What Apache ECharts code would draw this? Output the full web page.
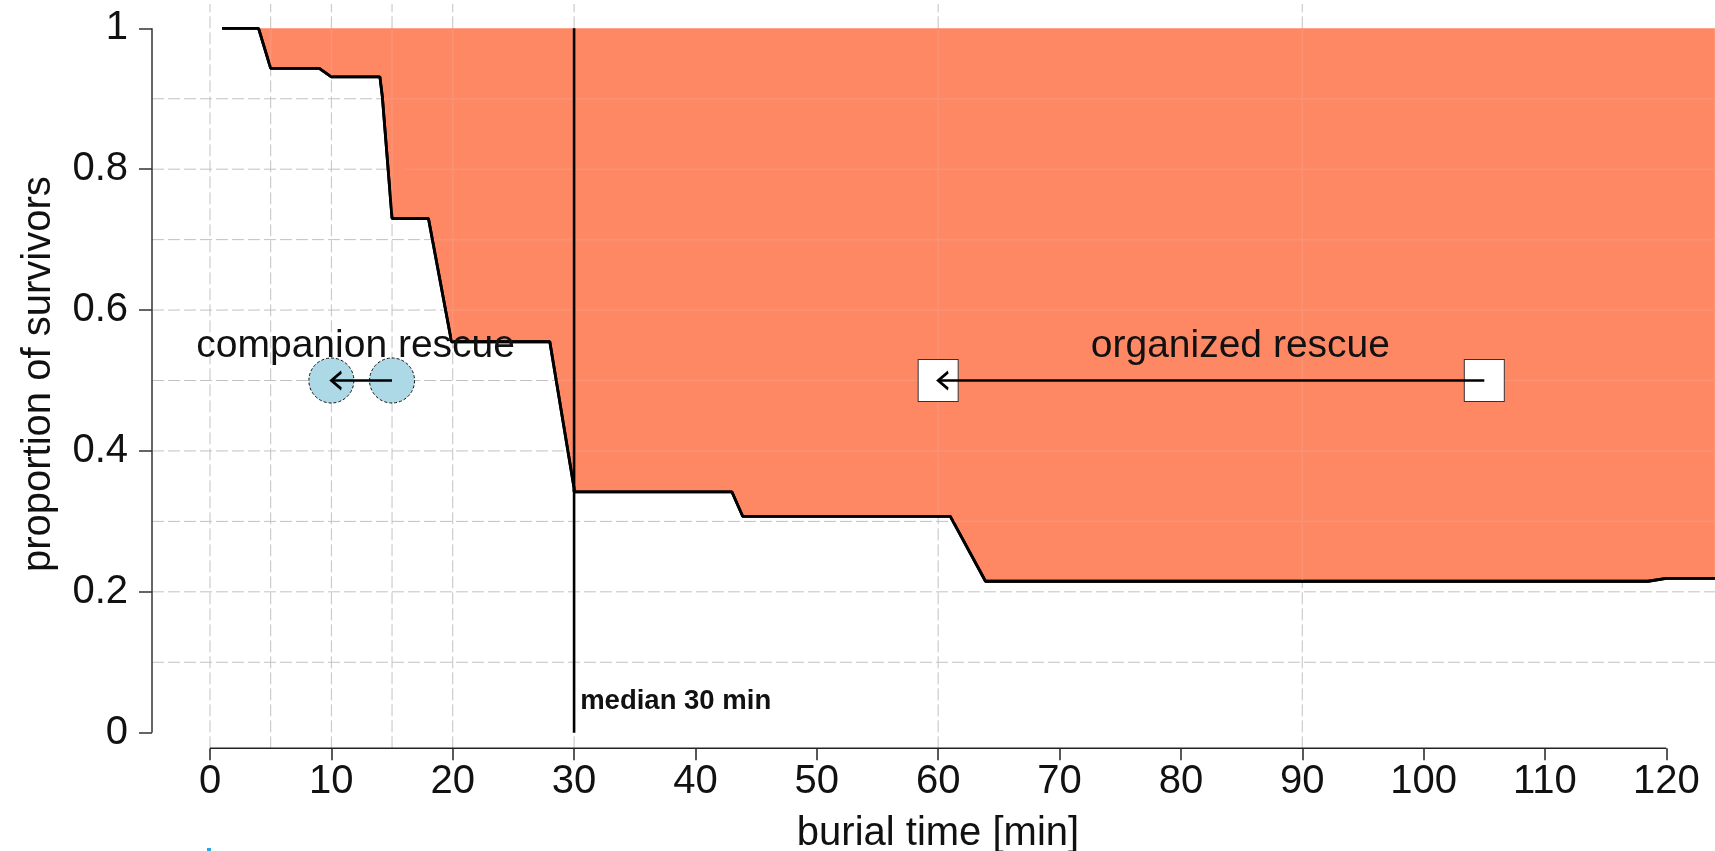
<!DOCTYPE html>
<html><head><meta charset="utf-8">
<style>html,body{margin:0;padding:0;background:#fff}#c{width:1715px;height:851px}</style>
<script src="https://cdn.jsdelivr.net/npm/echarts@6/dist/echarts.min.js"></script>
</head><body><div id="c"></div>
<script>
const survivalCurve = [[1,1],[4,1],[5,0.943],[9,0.943],[10,0.931],[14,0.931],[14.2,0.903],[15,0.73],[18,0.73],[19.9,0.555],[28,0.555],[30,0.347],[30,0.342],[43,0.342],[43.9,0.307],[61,0.307],[63.9,0.215],[118.5,0.215],[120,0.219],[124,0.219]];
const medianLine = [[30,0],[30,1]];
const gridVerticalX = [0,5,10,15,20,30,60,90];
const gridHorizontalY = [0.1,0.2,0.3,0.4,0.5,0.6,0.7,0.8,0.9];
const fillGridHorizontalStart = [[0.9,14.25],[0.8,16],[0.7,18.4],[0.6,19.4],[0.5,28.5],[0.4,29.5],[0.3,61.3]];
const fillGridVerticalStart = [[5,0.943],[10,0.931],[15,0.73],[20,0.555],[60,0.307],[90,0.215]];
const companionPoints = [[10,0.5],[15,0.5]];
const organizedPoints = [[60,0.5],[105,0.5]];
const companionArrow = [[15,0.5],[10,0.5]];
const organizedArrow = [[105,0.5],[60,0.5]];
const arrowTips = [[10,0.5],[60,0.5]];
const rescueLabels = [{name:'companion rescue',value:[12,0.548]},{name:'organized rescue',value:[84.9,0.548]}];
const medianLabel = [{name:'median 30 min',value:[30.5,0.044]}];
const xTicks = [0,10,20,30,40,50,60,70,80,90,100,110,120];
const yTicks = [0,0.2,0.4,0.6,0.8,1];
const xMin = -4.779, xMax = 124.01, yMin = -0.02215, yMax = 1.0402, gridTop = 1.0345;
const xAxisSpan = [[0,yMin],[120,yMin]];
const yAxisSpan = [[xMin,0],[xMin,1]];

const font = '"Liberation Sans", Arial, sans-serif';
const ink = '#111';
function withBreaks(segs){const o=[];segs.forEach(s=>{o.push(s[0],s[1],[null,null]);});return o;}
const dashSegs = withBreaks(gridVerticalX.map(x=>[[x,yMin],[x,gridTop]]).concat(gridHorizontalY.map(y=>[[xMin,y],[xMax,y]])));
const fillSegs = withBreaks(fillGridHorizontalStart.map(p=>[[p[1],p[0]],[xMax,p[0]]]).concat(fillGridVerticalStart.map(p=>[[p[0],p[1]],[p[0],1]])));
const plain = {silent:true,animation:false,clip:false,symbol:'none'};

const chart = echarts.init(document.getElementById('c'),null,{renderer:'canvas'});
chart.setOption({
  backgroundColor:'#fff',animation:false,
  grid:{left:152,right:0,top:0,bottom:102.7,outerBoundsMode:'none'},
  xAxis:{type:'value',min:xMin,max:xMax,
    name:'burial time [min]',nameLocation:'middle',nameGap:66,nameMoveOverlap:false,
    nameTextStyle:{fontFamily:font,fontSize:40,color:ink,padding:[0,0,0,9]},
    axisLine:{show:false,onZero:false},
    axisTick:{show:true,length:12,customValues:xTicks,lineStyle:{color:'#222',width:1.5}},
    axisLabel:{show:true,margin:14,customValues:xTicks,fontFamily:font,fontSize:40,color:ink,hideOverlap:false},
    splitLine:{show:false}},
  yAxis:{type:'value',min:yMin,max:yMax,
    name:'proportion of survivors',nameLocation:'middle',nameGap:93,nameRotate:90,nameMoveOverlap:false,
    nameTextStyle:{fontFamily:font,fontSize:40,color:ink},
    axisLine:{show:false,onZero:false},
    axisTick:{show:true,length:13,customValues:yTicks,lineStyle:{color:'#333',width:1.5}},
    axisLabel:{show:true,margin:24,customValues:yTicks,fontFamily:font,fontSize:40,color:ink,hideOverlap:false,
      formatter:v=>String(+v.toFixed(1))},
    splitLine:{show:false}},
  graphic:[{type:'rect',shape:{x:207,y:848,width:4,height:3},style:{fill:'#29a9e0'},silent:true}],
  series:[
    Object.assign({type:'line',z:1,data:dashSegs,connectNulls:false,lineStyle:{color:'#c2c2c2',width:1,type:[12,4]}},plain),
    Object.assign({type:'line',z:2,data:survivalCurve,lineStyle:{color:'#000',width:2.8},
      areaStyle:{color:'#FF8864',opacity:1,origin:1}},plain),
    Object.assign({type:'line',z:3,data:fillSegs,connectNulls:false,lineStyle:{color:'#FA9274',width:1.6}},plain),
    Object.assign({type:'line',z:4,data:survivalCurve,lineStyle:{color:'#000',width:2.8}},plain),
    Object.assign({type:'line',z:4,data:medianLine,lineStyle:{color:'#000',width:2.6}},plain),
    Object.assign({type:'line',z:4,data:xAxisSpan,lineStyle:{color:'#222',width:1.5}},plain),
    Object.assign({type:'line',z:4,data:yAxisSpan,lineStyle:{color:'#333',width:1.5}},plain),
    {type:'scatter',z:5,silent:true,animation:false,clip:false,data:companionPoints,symbol:'circle',symbolSize:45,
      itemStyle:{color:'#ADD8E6',opacity:1,borderColor:'#111',borderWidth:1,borderType:[3,2]}},
    {type:'scatter',z:5,silent:true,animation:false,clip:false,data:organizedPoints,symbol:'rect',symbolSize:[40,42],
      itemStyle:{color:'#fff',opacity:1,borderColor:'#333',borderWidth:1}},
    Object.assign({type:'line',z:6,data:companionArrow,lineStyle:{color:'#000',width:2.4}},plain),
    Object.assign({type:'line',z:6,data:organizedArrow,lineStyle:{color:'#000',width:2.4}},plain),
    {type:'scatter',z:7,silent:true,animation:false,clip:false,data:arrowTips,
      symbol:'path://M10 0 L0 10 L10 20',symbolKeepAspect:false,symbolSize:[10,17],symbolOffset:[5,0],
      itemStyle:{color:'none',borderColor:'#000',borderWidth:2.4,opacity:1}},
    {type:'scatter',z:8,silent:true,animation:false,clip:false,data:rescueLabels,symbolSize:0,itemStyle:{opacity:1},
      label:{show:true,position:'inside',formatter:'{b}',fontFamily:font,fontSize:39,color:ink,opacity:1}},
    {type:'scatter',z:8,silent:true,animation:false,clip:false,data:medianLabel,symbolSize:0,itemStyle:{opacity:1},
      label:{show:true,position:'right',distance:0,formatter:'{b}',fontFamily:font,fontWeight:'bold',fontSize:27.5,color:ink,opacity:1}}
  ]
});
</script></body></html>
